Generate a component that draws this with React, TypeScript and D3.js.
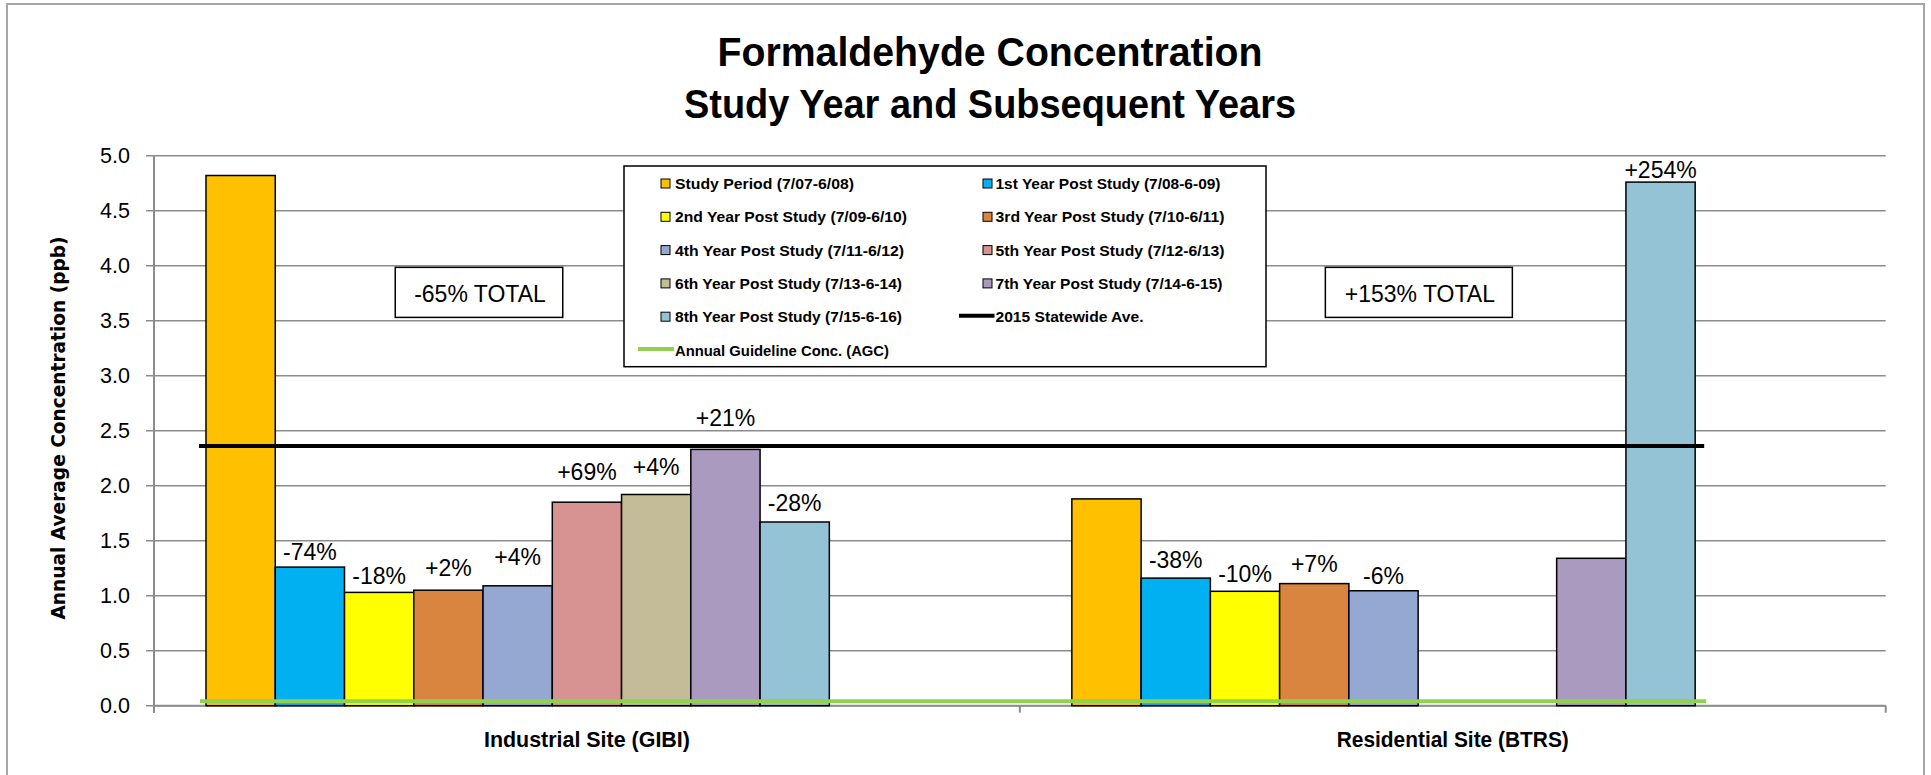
import React from "react";
import * as d3 from "d3";

// ---------- data ----------
const categories = ["Industrial Site (GIBI)", "Residential Site (BTRS)"];
const barSeries = [
  "Study Period (7/07-6/08)",
  "1st Year Post Study (7/08-6-09)",
  "2nd Year Post Study (7/09-6/10)",
  "3rd Year Post Study (7/10-6/11)",
  "4th Year Post Study (7/11-6/12)",
  "5th Year Post Study (7/12-6/13)",
  "6th Year Post Study (7/13-6-14)",
  "7th Year Post Study (7/14-6-15)",
  "8th Year Post Study (7/15-6-16)",
];
const lineSeries = ["2015 Statewide Ave.", "Annual Guideline Conc. (AGC)"];
const industrialValues: (number | null)[] = [4.82, 1.26, 1.03, 1.05, 1.09, 1.85, 1.92, 2.33, 1.67];
const residentialValues: (number | null)[] = [1.88, 1.16, 1.04, 1.11, 1.045, null, null, 1.34, 4.76];
const industrialLabels = ["", "-74%", "-18%", "+2%", "+4%", "+69%", "+4%", "+21%", "-28%"];
const residentialLabels = ["", "-38%", "-10%", "+7%", "-6%", "", "", "", "+254%"];
const statewideAvg = 2.36;
const agcValue = 0.04;
const totalNotes = ["-65% TOTAL", "+153% TOTAL"];
const yTickValues = [0, 0.5, 1, 1.5, 2, 2.5, 3, 3.5, 4, 4.5, 5];
const titleLines = ["Formaldehyde Concentration", "Study Year and Subsequent Years"];
const yAxisTitle = "Annual Average Concentration (ppb)";

// ---------- styles / layout ----------
const W = 1931;
const H = 775;
const barColors = [
  "#FFC000", "#00B0F0", "#FFFF00", "#D9843F", "#95A8D1",
  "#D69391", "#C4BC98", "#AA9ABF", "#93C3D4",
];
const statewideColor = "#000000";
const agcColor = "#92D050";
const gridColor = "#8c8c8c";
const plot = { left: 154, right: 1885.7, top: 155.7, bottom: 705.7 };
const groupPad = 52;
const industrialLabelDy = [0, 7, 8, 14, 21, 22, 20, 23, 11];
const residentialLabelDy = [0, 10, 9, 12, 7, 0, 0, 0, 4];
const legendTextWidths = [179, 225, 232, 229, 229, 229, 227, 227, 227, 148, 214];
const regularFont = "'Liberation Sans', Arial, sans-serif";
const boldFont = "'Liberation Sans Narrow', 'Liberation Sans', Arial, sans-serif";

export default function App() {
  const y = d3.scaleLinear().domain([0, 5]).range([plot.bottom, plot.top]);
  const x0 = d3.scaleBand<string>().domain(categories).range([plot.left, plot.right]).padding(0);
  const slots = [...barSeries, ...lineSeries];
  const x1 = d3
    .scaleBand<string>()
    .domain(slots)
    .range([groupPad, x0.bandwidth() - groupPad])
    .padding(0);
  const bw = x1.bandwidth();

  const groups = [
    { cat: categories[0], values: industrialValues, labels: industrialLabels, dys: industrialLabelDy },
    { cat: categories[1], values: residentialValues, labels: residentialLabels, dys: residentialLabelDy },
  ];

  const lineX0 = (x0(categories[0]) as number) + (x1(barSeries[0]) as number) - 7;
  const lineX1 = (x0(categories[1]) as number) + (x1(barSeries[8]) as number) + bw + 9;

  const legendRows = [
    { name: barSeries[0], kind: "bar", color: barColors[0] },
    { name: barSeries[1], kind: "bar", color: barColors[1] },
    { name: barSeries[2], kind: "bar", color: barColors[2] },
    { name: barSeries[3], kind: "bar", color: barColors[3] },
    { name: barSeries[4], kind: "bar", color: barColors[4] },
    { name: barSeries[5], kind: "bar", color: barColors[5] },
    { name: barSeries[6], kind: "bar", color: barColors[6] },
    { name: barSeries[7], kind: "bar", color: barColors[7] },
    { name: barSeries[8], kind: "bar", color: barColors[8] },
    { name: lineSeries[0], kind: "line", color: statewideColor },
    { name: lineSeries[1], kind: "line", color: agcColor },
  ];
  const legend = { x: 624, y: 166, w: 642, h: 200.7, rowY0: 183.5, rowH: 33.3, col: [661, 983] };

  const catBoundaries = [plot.left, ...categories.map((c) => (x0(c) as number) + x0.bandwidth())];

  const noteBoxes = [
    { text: totalNotes[0], cx: (x0(categories[0]) as number) + 325, w: 167.5 },
    { text: totalNotes[1], cx: (x0(categories[1]) as number) + 399, w: 187 },
  ];

  return (
    <svg
      width={W}
      height={H}
      style={{ position: "absolute", left: 0, top: 0, display: "block", background: "#fff" }}
    >
      <rect x={0} y={0} width={W} height={H} fill="#fff" />
      {/* outer chart border */}
      <rect x={7} y={4} width={1917} height={H + 20} fill="none" stroke="#a6a6a6" strokeWidth={2} />

      {/* title */}
      {titleLines.map((t, i) => (
        <text
          key={t}
          x={990}
          y={66 + i * 52}
          textAnchor="middle"
          fontFamily={boldFont}
          fontWeight="bold"
          fontSize={40}
          textLength={i === 0 ? 545 : 612}
          lengthAdjust="spacingAndGlyphs"
          fill="#000"
        >
          {t}
        </text>
      ))}

      {/* gridlines */}
      {yTickValues.map((v) => (
        <line
          key={"g" + v}
          x1={plot.left - 8}
          x2={plot.right}
          y1={y(v)}
          y2={y(v)}
          stroke={gridColor}
          strokeWidth={1.6}
        />
      ))}
      {/* y axis */}
      <line x1={plot.left} x2={plot.left} y1={plot.top} y2={plot.bottom + 7} stroke={gridColor} strokeWidth={2} />
      {yTickValues.map((v) => (
        <text
          key={"t" + v}
          x={130}
          y={y(v) + 7.5}
          textAnchor="end"
          fontFamily={regularFont}
          fontSize={21.5}
          fill="#000"
        >
          {d3.format(".1f")(v)}
        </text>
      ))}
      {/* x axis */}
      <line x1={plot.left} x2={plot.right} y1={plot.bottom} y2={plot.bottom} stroke={gridColor} strokeWidth={2} />
      {catBoundaries.map((bx, i) => (
        <line key={"xt" + i} x1={bx} x2={bx} y1={plot.bottom} y2={plot.bottom + 7} stroke={gridColor} strokeWidth={2} />
      ))}

      {/* bars */}
      {groups.map((g) =>
        g.values.map((v, i) =>
          v == null ? null : (
            <rect
              key={g.cat + i}
              x={(x0(g.cat) as number) + (x1(barSeries[i]) as number)}
              y={y(v)}
              width={bw}
              height={y(0) - y(v)}
              fill={barColors[i]}
              stroke="#000"
              strokeWidth={1.5}
            />
          )
        )
      )}

      {/* statewide average line */}
      <line
        x1={lineX0}
        x2={lineX1}
        y1={y(statewideAvg)}
        y2={y(statewideAvg)}
        stroke={statewideColor}
        strokeWidth={4}
      />
      {/* AGC line */}
      <line
        x1={lineX0 + 1}
        x2={lineX1 + 2}
        y1={y(agcValue)}
        y2={y(agcValue)}
        stroke={agcColor}
        strokeWidth={4}
      />

      {/* bar labels */}
      {groups.map((g) =>
        g.values.map((v, i) =>
          v == null || !g.labels[i] ? null : (
            <text
              key={"l" + g.cat + i}
              x={(x0(g.cat) as number) + (x1(barSeries[i]) as number) + bw / 2}
              y={y(v) - g.dys[i]}
              textAnchor="middle"
              fontFamily={regularFont}
              fontSize={23}
              fill="#000"
            >
              {g.labels[i]}
            </text>
          )
        )
      )}

      {/* total notes */}
      {noteBoxes.map((n) => (
        <g key={n.text}>
          <rect
            x={n.cx - n.w / 2}
            y={y(3.985)}
            width={n.w}
            height={y(3.53) - y(3.985)}
            fill="#fff"
            stroke="#000"
            strokeWidth={1.5}
          />
          <text
            x={n.cx + 1}
            y={y(3.985) + 34.5}
            textAnchor="middle"
            fontFamily={regularFont}
            fontSize={23}
            fill="#000"
          >
            {n.text}
          </text>
        </g>
      ))}

      {/* legend */}
      <rect x={legend.x} y={legend.y} width={legend.w} height={legend.h} fill="#fff" stroke="#000" strokeWidth={1.5} />
      {legendRows.map((r, i) => {
        const col = i % 2;
        const row = Math.floor(i / 2);
        const cy = legend.rowY0 + row * legend.rowH;
        const sx = legend.col[col];
        const textX = col === 0 ? 675 : 995.5;
        return (
          <g key={r.name}>
            {r.kind === "bar" ? (
              <rect x={sx} y={cy - 4.5} width={9} height={9} fill={r.color} stroke="#000" strokeWidth={1} />
            ) : (
              <line
                x1={col === 0 ? 638 : 959}
                x2={textX - 1}
                y1={cy - 1}
                y2={cy - 1}
                stroke={r.color}
                strokeWidth={4}
              />
            )}
            <text
              x={textX}
              y={cy + 5.5}
              fontFamily={boldFont}
              fontWeight="bold"
              fontSize={15.5}
              textLength={legendTextWidths[i]}
              lengthAdjust="spacingAndGlyphs"
              fill="#000"
            >
              {r.name}
            </text>
          </g>
        );
      })}

      {/* category labels */}
      {categories.map((c, i) => (
        <text
          key={c}
          x={(x0(c) as number) + x0.bandwidth() / 2}
          y={747}
          textAnchor="middle"
          fontFamily={boldFont}
          fontWeight="bold"
          fontSize={22}
          textLength={i === 0 ? 206 : 232}
          lengthAdjust="spacingAndGlyphs"
          fill="#000"
        >
          {c}
        </text>
      ))}

      {/* y axis title */}
      <text
        transform={`translate(65, 428) rotate(-90)`}
        textAnchor="middle"
        fontFamily="'DejaVu Sans', Verdana, sans-serif"
        fontWeight="bold"
        fontSize={19}
        textLength={383}
        lengthAdjust="spacingAndGlyphs"
        fill="#000"
      >
        {yAxisTitle}
      </text>
    </svg>
  );
}
